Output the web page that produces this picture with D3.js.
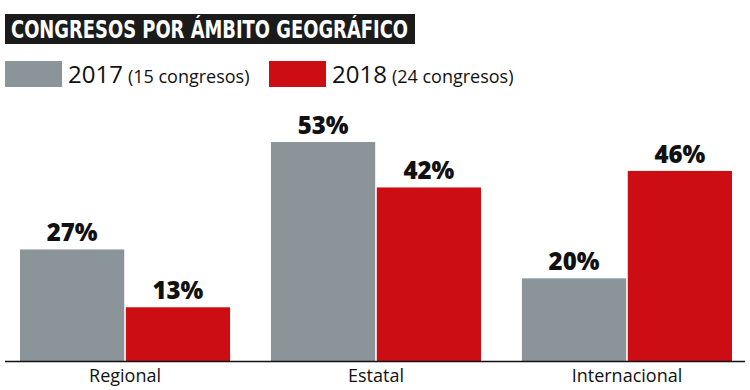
<!DOCTYPE html>
<html><head><meta charset="utf-8">
<script src="https://cdn.jsdelivr.net/npm/d3@7"></script>
<style>body{margin:0;background:#fff}svg{display:block}</style>
</head><body><svg id="c" width="750" height="390"></svg>
<script>
const categories = ["Regional", "Estatal", "Internacional"];
const seriesNames = ["2017", "2018"];
const seriesNotes = ["(15 congresos)", "(24 congresos)"];
const values2017 = [27, 53, 20];
const values2018 = [13, 42, 46];
const colors = ["#8a9499", "#cc0d14"];
const title = "CONGRESOS POR ÁMBITO GEOGRÁFICO";

const svg = d3.select("#c");
const baseY = 361;
const x = d3.scaleBand().domain(categories).range([20, 732]).paddingInner(0.163).paddingOuter(0);
const xs = d3.scaleBand().domain(seriesNames).range([0, x.bandwidth()]).paddingInner(0.015);
const y = d3.scaleLinear().domain([0, 53]).range([baseY, 142]);

// title bar
svg.append("rect").attr("x", 5).attr("y", 14).attr("width", 410).attr("height", 30).attr("fill", "#1b1b1b");
svg.append("text").attr("x", 11).attr("y", 38).text(title)
  .attr("font-family", "DejaVu Sans Condensed, DejaVu Sans").attr("font-weight", "bold")
  .attr("font-size", 24).attr("fill", "#fff")
  .attr("textLength", 397).attr("lengthAdjust", "spacingAndGlyphs");

// legend
const legX = [5, 269];
seriesNames.forEach((s, i) => {
  const g = svg.append("g").attr("transform", `translate(${legX[i]},61)`);
  g.append("rect").attr("width", 57).attr("height", 26).attr("fill", colors[i]);
  const t = g.append("text").attr("x", 63).attr("y", 22).attr("font-family", "Open Sans").attr("fill", "#111");
  t.append("tspan").attr("font-size", 24).text(s);
  t.append("tspan").attr("font-size", 18).attr("dx", 5).text(seriesNotes[i]);
});

const data = categories.map((c, i) => ({c, vals: [values2017[i], values2018[i]]}));
const groups = svg.selectAll("g.grp").data(data).join("g").attr("class", "grp")
  .attr("transform", d => `translate(${x(d.c)},0)`);
groups.selectAll("rect").data(d => d.vals.map((v, j) => ({v, s: seriesNames[j], j})))
  .join("rect")
  .attr("x", d => xs(d.s)).attr("width", xs.bandwidth())
  .attr("y", d => y(d.v)).attr("height", d => baseY - y(d.v))
  .attr("fill", d => colors[d.j]);
groups.selectAll("text.val").data(d => d.vals.map((v, j) => ({v, s: seriesNames[j]})))
  .join("text").attr("class", "val")
  .attr("x", d => xs(d.s) + xs.bandwidth() / 2).attr("y", d => y(d.v) - 8)
  .attr("text-anchor", "middle").attr("font-family", "Open Sans").attr("font-weight", 800)
  .attr("font-size", 24).attr("fill", "#111").text(d => d.v + "%");

// baseline
svg.append("line").attr("x1", 5).attr("x2", 745).attr("y1", baseY + 0.5).attr("y2", baseY + 0.5)
  .attr("stroke", "#111").attr("stroke-width", 1.5);

// category labels
svg.selectAll("text.cat").data(categories).join("text").attr("class", "cat")
  .attr("x", d => x(d) + x.bandwidth() / 2).attr("y", 382)
  .attr("text-anchor", "middle").attr("font-family", "Open Sans").attr("font-size", 18)
  .attr("fill", "#111").text(d => d);
</script></body></html>
